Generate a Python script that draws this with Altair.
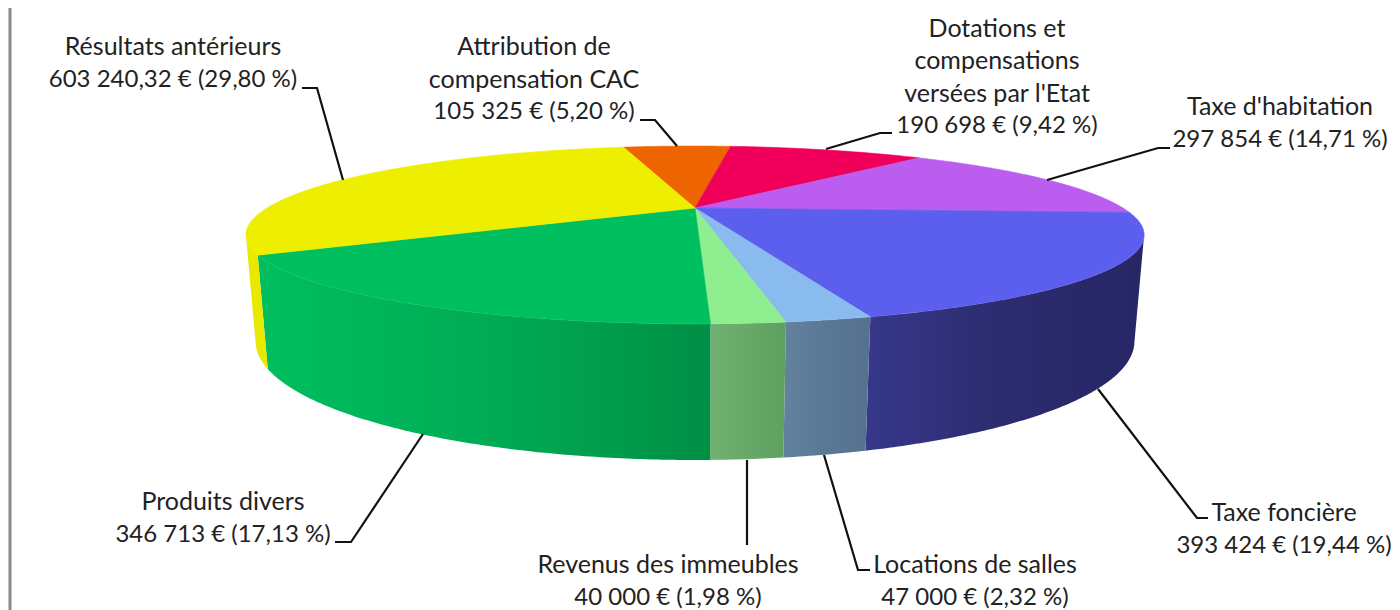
import math
import altair as alt

# ---- data (clockwise, starting at the far side)
names = ["Attribution de\ncompensation CAC", "Dotations et\ncompensations\nversées par l'Etat", "Taxe d'habitation",
         "Taxe foncière", "Locations de salles", "Revenus des immeubles", "Produits divers", "Résultats antérieurs"]
values = [105325, 190698, 297854, 393424, 47000, 40000, 346713, 603240.32]
value_labels = ["105 325 € (5,20 %)", "190 698 € (9,42 %)", "297 854 € (14,71 %)", "393 424 € (19,44 %)",
                "47 000 € (2,32 %)", "40 000 € (1,98 %)", "346 713 € (17,13 %)", "603 240,32 € (29,80 %)"]
top_colors = ["#EE6400", "#F0005A", "#BB5DEE", "#5C5EEE", "#8ABBEE", "#8FEE8F", "#00BF5F", "#EEEE00"]
wall_stops = [None, None, None,
              ["#37378C", "#2B2B6E", "#272766"],
              ["#62829F", "#5A7894", "#55718E"],
              ["#70B070", "#68A868", "#5F9F5F"],
              ["#00BE5E", "#00AC55", "#008F46"],
              ["#E8E800", "#E8E800", "#E8E800"]]
# label block centres and leader elbows
label_x = [534, 997, 1280, 1284, 975, 668, 223, 173]
label_y = [47, 28.5, 107, 513, 565, 565, 502, 47]
line_step = 32.5
leaders = [[[640, 120], [655, 120], [677, 146]],
           [[826, 149], [880, 133], [892, 133]],
           [[1047, 180], [1158, 148], [1170, 148]],
           [[1098, 389], [1197, 518], [1208, 518]],
           [[824, 455], [858, 570], [870, 570]],
           [[747, 460], [747, 545]],
           [[423, 434], [351, 542], [335, 542]],
           [[343, 180], [317, 88], [302, 88]]]

# ---- camera of the 3-D pie
CX, OFF = 695.0, 8.0
A, K = 428.0, 0.303
Y0, YS, DM, DN = 208.0, 17.7, 0.02, 104.1
START = -12.5


def project(a, z):
    X, Y = math.sin(math.radians(a)), -math.cos(math.radians(a))
    w = 1 - K * Y + DM * z
    return [CX + A * X / w - OFF, (Y0 + YS * Y + DN * z) / w - OFF]


def arc(a0, a1, z):
    n = max(2, int(abs(a1 - a0)) * 2)
    return [project(a0 + (a1 - a0) * i / n, z) for i in range(n + 1)]


def feature(coords, kind="Polygon"):
    return {"type": "Feature", "properties": {},
            "geometry": {"type": kind, "coordinates": [coords] if kind == "Polygon" else coords}}


PROJ = dict(type="identity", scale=1, translate=[0, 0])
total = sum(values)
edges = [START]
for v in values:
    edges.append(edges[-1] + v / total * 360)

vis = math.degrees(math.acos(K))
layers = []
# left frame line
layers.append(alt.Chart(alt.Data(values=[feature([[2, -8], [2, 610]], "LineString")])).mark_geoshape(
    filled=False, stroke="#8A8A8A", strokeWidth=3).project(**PROJ))
# walls
for i, stops in enumerate(wall_stops):
    if stops is None:
        continue
    lo = max(edges[i], 180 - vis)
    hi = min(edges[i + 1], 180 + vis)
    poly = arc(lo, hi, 0) + arc(hi, lo, 1)
    poly.append(poly[0])
    grad = alt.Gradient(gradient="linear", x1=0, x2=1, y1=0, y2=0, stops=[
        alt.GradientStop(color=stops[0], offset=0),
        alt.GradientStop(color=stops[1], offset=0.5),
        alt.GradientStop(color=stops[2], offset=1)])
    layers.append(alt.Chart(alt.Data(values=[feature(poly)])).mark_geoshape(
        fill=grad, stroke="transparent", strokeWidth=0).project(**PROJ))
# top faces
for i, c in enumerate(top_colors):
    apex = [CX - OFF, Y0 - OFF]
    poly = [apex] + arc(edges[i], edges[i + 1], 0) + [apex]
    layers.append(alt.Chart(alt.Data(values=[feature(poly)])).mark_geoshape(
        fill=c, stroke=c, strokeWidth=0.6).project(**PROJ))
# leaders
for pts in leaders:
    coords = [[p[0] - OFF, p[1] - OFF] for p in pts]
    layers.append(alt.Chart(alt.Data(values=[feature(coords, "LineString")])).mark_geoshape(
        filled=False, stroke="#111111", strokeWidth=2.2).project(**PROJ))
# labels
name_rows, value_rows = [], []
for name, val, lx, ly in zip(names, value_labels, label_x, label_y):
    lines = name.split("\n")
    for j, t in enumerate(lines):
        name_rows.append({"t": t, "x": lx - OFF, "y": ly + j * line_step - OFF})
    value_rows.append({"t": val, "x": lx - OFF, "y": ly + len(lines) * line_step - OFF})
for rows, size in ((name_rows, 25), (value_rows, 24)):
    layers.append(alt.Chart(alt.Data(values=rows)).mark_text(
        font="Lato", fontSize=size, color="#222222", align="center", baseline="middle").encode(
        x=alt.X("x:Q", scale=None, axis=None), y=alt.Y("y:Q", scale=None, axis=None), text="t:N"))

chart = alt.layer(*layers).properties(
    width=1384, height=602, padding=0, autosize=alt.AutoSizeParams(type="none")
).configure_view(stroke=None)
chart.save("out.html", embed_options={"renderer": "svg", "actions": False})
